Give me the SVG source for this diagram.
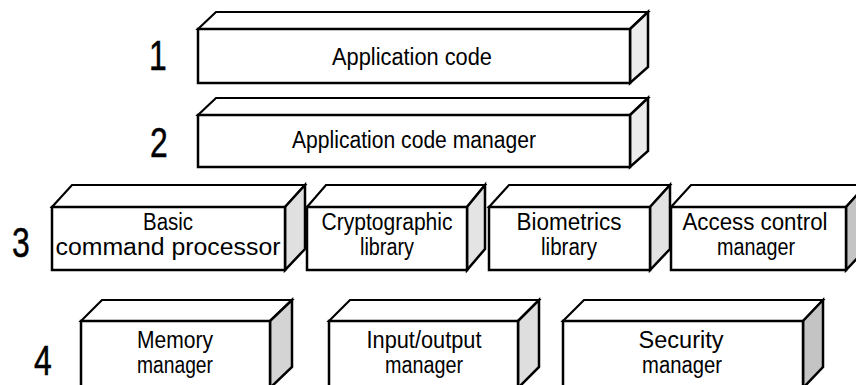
<svg xmlns="http://www.w3.org/2000/svg" width="856" height="385" viewBox="0 0 856 385">
<style>
  .f{fill:#fff;stroke:#000;stroke-width:2.5;stroke-linejoin:miter}
  .t{fill:#fff;stroke:#000;stroke-width:2.2;stroke-linejoin:miter}
  .s{stroke:#000;stroke-width:2.5;stroke-linejoin:miter}
  .lbl{font-family:"Liberation Sans",Arial,sans-serif;font-size:23px;fill:#000;text-anchor:middle}
  .num{font-family:"Liberation Sans",Arial,sans-serif;font-size:42px;fill:#000;stroke:#000;stroke-width:0.5;text-anchor:middle}
</style>
<rect width="856" height="385" fill="#fff"/>
<g id="layer-numbers">
  <text class="num" transform="translate(158,70) scale(0.76,1)">1</text>
  <text class="num" transform="translate(159,157) scale(0.76,1)">2</text>
  <text class="num" transform="translate(21,257) scale(0.76,1)">3</text>
  <text class="num" transform="translate(43,375) scale(0.76,1)">4</text>
</g>
<g id="application-code">
  <polygon class="t" points="198,29 216,12 648,12 630,29"/>
  <polygon class="s" fill="#ececec" points="630,29 648,12 648,67 630,83"/>
  <rect class="f" x="198" y="29" width="432" height="54"/>
  <text class="lbl" x="412" y="65" textLength="160" lengthAdjust="spacingAndGlyphs">Application code</text>
</g>
<g id="application-code-manager">
  <polygon class="t" points="198,115 216,98 648,98 630,115"/>
  <polygon class="s" fill="#ececec" points="630,115 648,98 648,151 630,167"/>
  <rect class="f" x="198" y="115" width="432" height="52"/>
  <text class="lbl" x="414" y="148" textLength="244" lengthAdjust="spacingAndGlyphs">Application code manager</text>
</g>
<g id="basic-command-processor">
  <polygon class="t" points="52,207 72,185 305,185 285,207"/>
  <polygon class="s" fill="#e0e0e0" points="285,207 305,185 305,249 285,270"/>
  <rect class="f" x="52" y="207" width="233" height="63"/>
  <text class="lbl" x="168" y="230" textLength="50" lengthAdjust="spacingAndGlyphs">Basic</text>
  <text class="lbl" x="168" y="255" textLength="225" lengthAdjust="spacingAndGlyphs">command processor</text>
</g>
<g id="cryptographic-library">
  <polygon class="t" points="307,207 326,185 485,185 467,207"/>
  <polygon class="s" fill="#e4e4e4" points="467,207 485,185 485,249 467,270"/>
  <rect class="f" x="307" y="207" width="160" height="63"/>
  <text class="lbl" x="387" y="230" textLength="131" lengthAdjust="spacingAndGlyphs">Cryptographic</text>
  <text class="lbl" x="387" y="255" textLength="54" lengthAdjust="spacingAndGlyphs">library</text>
</g>
<g id="biometrics-library">
  <polygon class="t" points="489,207 509,185 670,185 650,207"/>
  <polygon class="s" fill="#e2e2e2" points="650,207 670,185 670,249 650,270"/>
  <rect class="f" x="489" y="207" width="161" height="63"/>
  <text class="lbl" x="569" y="230" textLength="105" lengthAdjust="spacingAndGlyphs">Biometrics</text>
  <text class="lbl" x="569" y="255" textLength="56" lengthAdjust="spacingAndGlyphs">library</text>
</g>
<g id="access-control-manager">
  <polygon class="t" points="671,207 691,185 866,185 846,207"/>
  <polygon class="s" fill="#c4c4c4" points="846,207 866,185 866,249 846,270"/>
  <rect class="f" x="671" y="207" width="175" height="63"/>
  <text class="lbl" x="755" y="230" textLength="145" lengthAdjust="spacingAndGlyphs">Access control</text>
  <text class="lbl" x="756" y="255" textLength="78" lengthAdjust="spacingAndGlyphs">manager</text>
</g>
<g id="memory-manager">
  <polygon class="t" points="81,321 102,300 292,300 270,321"/>
  <polygon class="s" fill="#d4d4d4" points="270,321 292,300 292,367 270,388"/>
  <rect class="f" x="81" y="321" width="189" height="67"/>
  <text class="lbl" x="175" y="348" textLength="76" lengthAdjust="spacingAndGlyphs">Memory</text>
  <text class="lbl" x="175" y="373" textLength="76" lengthAdjust="spacingAndGlyphs">manager</text>
</g>
<g id="input-output-manager">
  <polygon class="t" points="329,321 350,300 539,300 518,321"/>
  <polygon class="s" fill="#dedede" points="518,321 539,300 539,367 518,388"/>
  <rect class="f" x="329" y="321" width="189" height="67"/>
  <text class="lbl" x="424" y="348" textLength="115" lengthAdjust="spacingAndGlyphs">Input/output</text>
  <text class="lbl" x="424" y="373" textLength="78" lengthAdjust="spacingAndGlyphs">manager</text>
</g>
<g id="security-manager">
  <polygon class="t" points="563,321 584,300 823,300 803,321"/>
  <polygon class="s" fill="#c4c4c4" points="803,321 823,300 823,367 803,388"/>
  <rect class="f" x="563" y="321" width="240" height="67"/>
  <text class="lbl" x="681" y="348" textLength="85" lengthAdjust="spacingAndGlyphs">Security</text>
  <text class="lbl" x="682" y="373" textLength="80" lengthAdjust="spacingAndGlyphs">manager</text>
</g>
</svg>
